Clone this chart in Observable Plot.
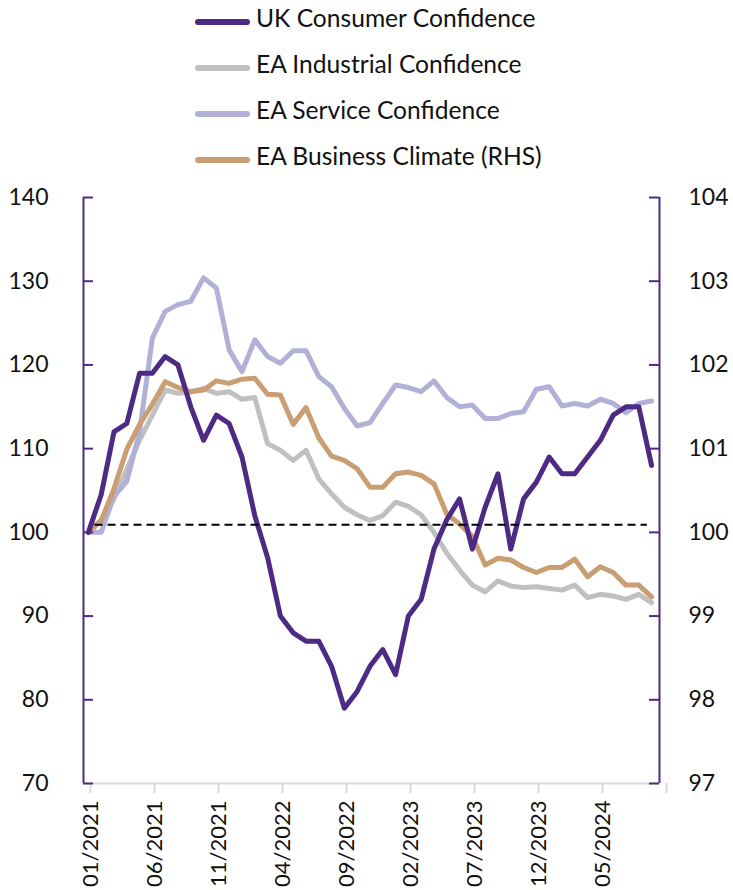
<!DOCTYPE html>
<html>
<head>
<meta charset="utf-8">
<script src="https://cdn.jsdelivr.net/npm/d3@7"></script>
<script src="https://cdn.jsdelivr.net/npm/@observablehq/plot@0.6"></script>
<style>
  html, body { margin: 0; padding: 0; background: #fff; }
  body { width: 733px; height: 890px; overflow: hidden; font-family: Lato, "Open Sans", sans-serif; }
  #legend { position: relative; width: 733px; height: 180px; }
  .item { position: absolute; left: 195px; height: 46px; display: flex; align-items: center;
          font-size: 24.6px; color: #111; white-space: nowrap; }
  .sw { width: 55px; height: 6px; border-radius: 3px; margin-right: 6px; }
  .lt { position: relative; top: -4px; }
  #chart svg { display: block; overflow: visible; }
</style>
</head>
<body>
<div id="legend"></div>
<div id="chart"></div>
<script>
// ---- data (monthly, 01/2021 .. 09/2024) ----
const seriesNames = ["UK Consumer Confidence", "EA Industrial Confidence", "EA Service Confidence", "EA Business Climate (RHS)"];
const seriesColors = ["#4E2A84", "#C0C0C0", "#B1B0D6", "#C99E72"];

const ukConsumer = [100,104.5,112,113,119,119,121,120,115,111,114,113,109,102,97,90,88,87,87,84,79,81,84,86,83,90,92,98,101.5,104,98,103,107,98,104,106,109,107,107,109,111,114,115,115,108];
const eaIndustrial = [100,101.5,104,107.5,111,114,117,116.6,116.8,117.2,116.6,116.8,115.9,116.1,110.6,109.8,108.6,109.8,106.4,104.6,103,102.1,101.4,102,103.6,103.1,102.1,100,97.5,95.5,93.7,92.9,94.2,93.6,93.4,93.5,93.3,93.1,93.7,92.2,92.6,92.4,92,92.6,91.6];
const eaService = [100,100,104.3,106.1,112,123.2,126.4,127.2,127.6,130.4,129.2,121.8,119.2,123,121,120.2,121.7,121.7,118.6,117.4,114.8,112.7,113.1,115.4,117.6,117.3,116.8,118.1,116.1,115,115.2,113.6,113.6,114.2,114.4,117.1,117.4,115.1,115.4,115.1,115.9,115.4,114.3,115.4,115.7];
const eaBusinessRHS = [100,100.14,100.52,100.99,101.29,101.53,101.8,101.73,101.68,101.7,101.81,101.78,101.83,101.84,101.65,101.64,101.29,101.49,101.13,100.91,100.86,100.76,100.54,100.54,100.7,100.72,100.68,100.58,100.22,100.1,99.95,99.61,99.69,99.67,99.58,99.52,99.58,99.58,99.68,99.47,99.59,99.52,99.37,99.37,99.23];

const xTickLabels = ["01/2021","06/2021","11/2021","04/2022","09/2022","02/2023","07/2023","12/2023","05/2024",""];
const leftTicks = [70,80,90,100,110,120,130,140];
const rightTicks = [97,98,99,100,101,102,103,104];
const refLevel = 100.9;         // dashed reference line (left axis units)
const refSpan = [0.9, 44.05];   // month positions where the dashed line starts / ends

// ---- helpers ----
const monthsPerTick = 5;
const xDomain = [0, 45];
const pointOffset = 0.38;       // data points sit slightly right of the month tick
const rhsToLeft = r => 100 + (r - 100) * 10;
const purple = "#4E2A84";

// ---- legend ----
const legend = document.getElementById("legend");
seriesNames.forEach((name, k) => {
  const it = document.createElement("div");
  it.className = "item";
  it.style.top = (21.5 + k * 46 - 23) + "px";
  it.innerHTML = `<span class="sw" style="background:${seriesColors[k]}"></span><span class="lt">${name}</span>`;
  legend.appendChild(it);
});

// ---- chart ----
const W = 733, H = 710, mL = 83, mR = 74, mT = 17, mB = 107;
const frameW = W - mL - mR;
const xTicks = xTickLabels.map((_, i) => i * monthsPerTick);
const line = (arr, color, map = d => d) =>
  Plot.line(arr, {x: (d, i) => i + pointOffset, y: map, stroke: color, strokeWidth: 5,
                  strokeLinejoin: "round", strokeLinecap: "round"});

const chart = Plot.plot({
  width: W, height: H,
  marginTop: mT, marginBottom: mB, marginLeft: mL, marginRight: mR,
  x: {domain: xDomain, axis: null},
  y: {domain: [70, 140], axis: null},
  style: {fontFamily: "Lato, 'Open Sans', sans-serif", fontSize: "23px", color: "#111", background: "white", overflow: "visible"},
  marks: [
    // x axis line and ticks/labels
    Plot.ruleY([70], {stroke: "#D9D9D9", strokeWidth: 2}),
    Plot.axisX({ticks: xTicks, tickSize: 10, stroke: "#D9D9D9", strokeWidth: 2,
                tickFormat: t => xTickLabels[t / monthsPerTick], tickRotate: -90,
                tickPadding: 7, dx: 7, fontSize: 22, label: null}),
    // series
    line(eaIndustrial, seriesColors[1]),
    line(eaService, seriesColors[2]),
    line(eaBusinessRHS, seriesColors[3], rhsToLeft),
    line(ukConsumer, seriesColors[0]),
    // dashed reference
    Plot.ruleY([refLevel], {x1: refSpan[0], x2: refSpan[1], stroke: "#000", strokeWidth: 2, strokeDasharray: "8,5"}),
    // left axis
    Plot.ruleX([xDomain[0]], {stroke: purple, strokeWidth: 2}),
    Plot.tickY(leftTicks, {y: d => d, stroke: purple, strokeWidth: 2, insetRight: frameW - 10}),
    Plot.axisY({anchor: "left", ticks: leftTicks, tickSize: 0, tickPadding: 35, fontSize: 23, label: null}),
    // right axis
    Plot.ruleX([xDomain[1]], {stroke: purple, strokeWidth: 2}),
    Plot.tickY(rightTicks, {y: rhsToLeft, stroke: purple, strokeWidth: 2, insetLeft: frameW - 10}),
    Plot.axisY({anchor: "right", ticks: rightTicks.map(rhsToLeft), tickSize: 0, tickPadding: 29,
                tickFormat: v => String(Math.round(100 + (v - 100) / 10)), fontSize: 23, label: null})
  ]
});
document.getElementById("chart").appendChild(chart);
</script>
</body>
</html>
